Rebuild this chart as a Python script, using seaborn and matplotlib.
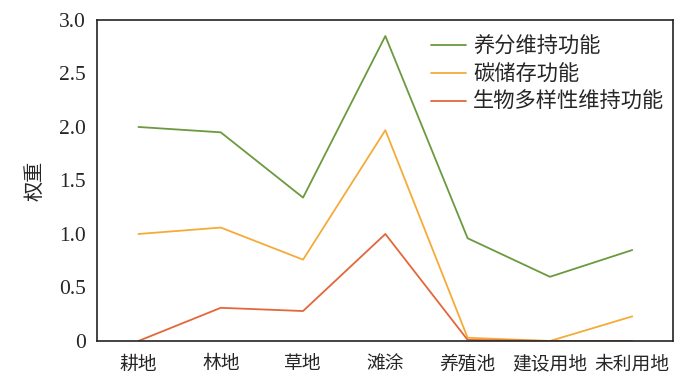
import matplotlib
matplotlib.use("Agg")

import pandas as pd
import matplotlib.pyplot as plt
import seaborn as sns
from matplotlib.ticker import FixedLocator

# ======================
# DATA
# ======================
land_types = ["耕地", "林地", "草地", "滩涂", "养殖池", "建设用地", "未利用地"]
series_names = ["养分维持功能", "碳储存功能", "生物多样性维持功能"]

nutrient = [2.00, 1.95, 1.34, 2.85, 0.96, 0.60, 0.85]
carbon = [1.00, 1.06, 0.76, 1.97, 0.03, 0.00, 0.23]
biodiv = [0.00, 0.31, 0.28, 1.00, 0.01, 0.00, 0.00]

y_ticks = [0, 0.5, 1.0, 1.5, 2.0, 2.5, 3.0]
y_labels = ["0", "0.5", "1.0", "1.5", "2.0", "2.5", "3.0"]

colors = ["#6b9a3e", "#f5ab38", "#e3673a"]

df = pd.DataFrame({
    "land": land_types * 3,
    "value": nutrient + carbon + biodiv,
    "series": sum([[s] * len(land_types) for s in series_names], []),
})

# ======================
# PLOT
# ======================
sns.set_style("white")
plt.rcParams["font.family"] = ["Noto Sans CJK SC", "DejaVu Sans"]

fig = plt.figure(figsize=(7, 3.84), dpi=100)
ax = fig.add_axes([0.139, 0.112, 0.823, 0.836])

sns.lineplot(
    data=df, x="land", y="value", hue="series",
    palette=colors, sort=False, linewidth=1.3, ax=ax
)

ax.set_xlim(-0.5, len(land_types) - 0.5)
ax.set_ylim(0, 3.0)

ax.set_xticks(range(len(land_types)))
ax.set_xticklabels(land_types, fontsize=13.5)
ax.xaxis.set_minor_locator(FixedLocator([i + 0.5 for i in range(len(land_types) - 1)]))
ax.tick_params(axis="x", which="major", length=0, pad=9)
ax.tick_params(axis="x", which="minor", direction="in", length=5, width=0.8, color="#333333")

ax.set_yticks(y_ticks)
ax.set_yticklabels(y_labels, fontsize=15.5, family="Liberation Serif")
ax.tick_params(axis="y", length=0, pad=8)

ax.set_xlabel("")
ax.set_ylabel("权重", fontsize=14.5, labelpad=10)

for sp in ax.spines.values():
    sp.set_visible(True)
    sp.set_color("#222222")
    sp.set_linewidth(1.2)

leg = ax.legend(
    loc="upper right", frameon=False, fontsize=15.3,
    handlelength=1.65, handletextpad=0.35, labelspacing=0.27,
    borderaxespad=0.0, bbox_to_anchor=(0.999, 0.978)
)
for line in leg.get_lines():
    line.set_linewidth(1.3)

fig.savefig("out.png", dpi=100)
plt.close(fig)
